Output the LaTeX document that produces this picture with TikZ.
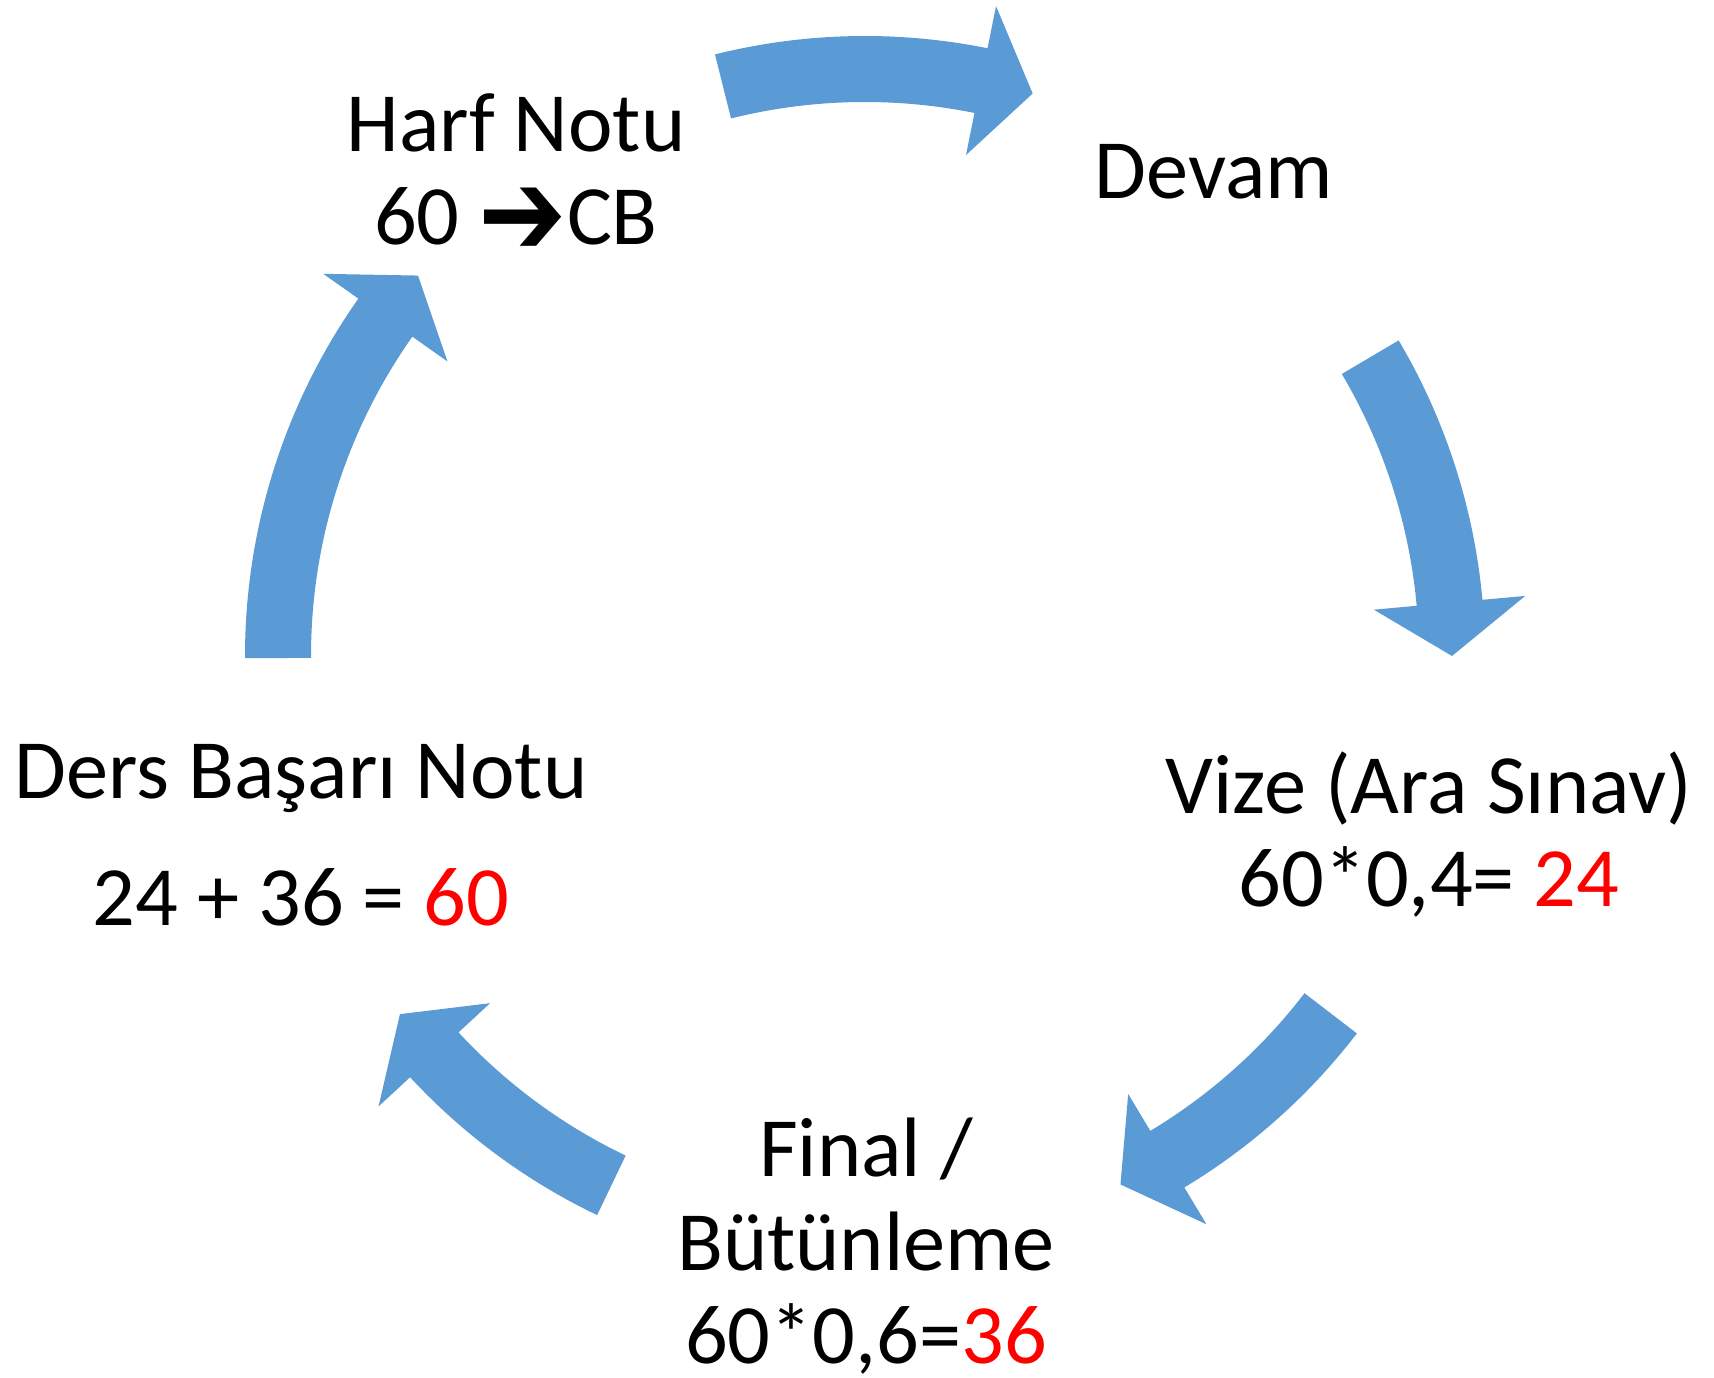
\documentclass[tikz,border=0pt]{standalone}
\usepackage{fontspec}
\setmainfont{Carlito}
\newfontfamily\symfont{DejaVu Sans}
\definecolor{cycleblue}{RGB}{91,155,213}

\begin{document}
\begin{tikzpicture}[font=\fontsize{24}{26.7}\selectfont, lbl/.style={align=center, anchor=base, inner sep=0pt}]
        \useasboundingbox (0,0) rectangle (17.14,-13.78);
        \coordinate (cycle) at (8.65,-6.56);
        % curved block arrows round the cycle
        \begin{scope}[shift={(cycle)}]
        \foreach \from/\to in {104/73.4, 30.6/0, -37.5/-64.2, -115.6/-142.4, 180.2/139.6}{
                \pgfmathsetmacro\base{\to+5.2}
                \fill[cycleblue] (\from:6.2) arc[start angle=\from, end angle=\base, radius=6.2]
                     -- (\base:6.63) -- (\to:5.87) -- (\base:5.11) -- (\base:5.54)
                     arc[start angle=\base, end angle=\from, radius=5.54] -- cycle;
        }
        \end{scope}
        \node[lbl] (harf) at (5.16,-2.45) {Harf Notu\\60 \raisebox{-0.12em}{\scalebox{1.25}[1.45]{\symfont ➔}}CB};
        \node[lbl] (devam) at (12.14,-1.99) {Devam};
        \node[lbl] (vize) at (14.29,-9.07) {Vize (Ara Sınav)\\60*0,4= \textcolor{red}{24}};
        \node[lbl] (final) at (8.66,-13.64) {Final /\\Bütünleme\\60*0,6=\textcolor{red}{36}};
        \node[lbl] (ders) at (3.01,-9.26) {Ders Başarı Notu\\[0.34cm]24 + 36 = \textcolor{red}{60}};
\end{tikzpicture}
\end{document}
